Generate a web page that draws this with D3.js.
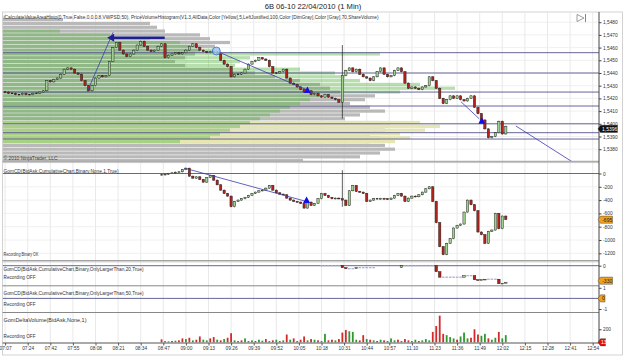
<!DOCTYPE html>
<html><head><meta charset="utf-8">
<script src="https://cdn.jsdelivr.net/npm/d3@7"></script>
<style>body{margin:0;background:#fff}svg{display:block}text{font-family:"Liberation Sans",Arial,sans-serif;fill:#333}</style>
</head><body><svg id="c" width="625" height="362"></svg>
<script>
// ---------- DATA ----------
const title = "6B 06-10  22/04/2010 (1 Min)";
const timeLabels = ["07:07","07:24","07:42","07:55","08:08","08:21","08:34","08:47","09:00","09:13","09:26","09:39","09:52","10:05","10:18","10:31","10:44","10:57","11:10","11:23","11:36","11:49","12:02","12:15","12:28","12:41","12:54"];
const priceTicks = [1.5480,1.5470,1.5460,1.5450,1.5440,1.5430,1.5420,1.5410,1.5400,1.5390,1.5380];
const cdTicks = [0,-200,-400,-600,-800,-1000,-1200];
// 2-minute bars from 07:07 (bar k -> minute 2k)
const priceCloses = [
1.5425,1.5424,1.5424,1.5423,1.5423,1.5424,1.5423,1.5423,1.5424,1.5424,1.5425,1.5426,
1.5434,1.5433,1.5435,1.5436,1.5439,1.5443,1.5444,1.5443,1.5440,1.5439,1.5434,1.5430,
1.5426,1.5430,1.5436,1.5438,1.5437,1.5438,1.5449,1.5460,1.5464,1.5458,1.5455,1.5453,
1.5455,1.5458,1.5462,1.5465,1.5461,1.5458,1.5457,1.5458,1.5461,1.5463,1.5452,1.5454,
1.5455,1.5456,1.5455,1.5456,1.5458,1.5461,1.5463,1.5460,1.5458,1.5457,1.5456,1.5457,
1.5456,1.5455,1.5450,1.5447,1.5445,1.5437,1.5439,1.5439,1.5440,1.5443,1.5447,1.5449,
1.5450,1.5452,1.5451,1.5450,1.5445,1.5440,1.5440,1.5441,1.5443,1.5436,1.5432,1.5431,
1.5429,1.5427,1.5425,1.5426,1.5423,1.5424,1.5422,1.5421,1.5423,1.5421,1.5420,1.5419,
1.5417,1.5438,1.5442,1.5444,1.5441,1.5443,1.5439,1.5437,1.5436,1.5434,1.5437,1.5441,
1.5444,1.5439,1.5437,1.5438,1.5442,1.5444,1.5441,1.5432,1.5428,1.5429,1.5428,1.5427,
1.5429,1.5430,1.5437,1.5434,1.5428,1.5420,1.5416,1.5419,1.5422,1.5420,1.5422,1.5419,
1.5418,1.5420,1.5422,1.5413,1.5408,1.5403,1.5396,1.5389,1.5390,1.5393,1.5402,1.5392,1.5398];
const priceFirstOpen = 1.5425;
const priceSpikeBar = [97], priceSpikeHigh = [1.5462], priceSpikeLow = [1.5404];
const lastPrice = 1.5396;
// cumulative delta, bars k = 45..144
const cdStartBar = 45;
const cdCloses = [
-20,-10,0,10,20,25,60,80,-40,-70,-50,-90,
-130,-60,-30,-100,-170,-250,-300,-340,-500,-420,-400,-380,
-360,-330,-300,-280,-260,-250,-220,-180,-250,-290,-310,-320,
-370,-400,-420,-430,-450,-520,-430,-480,-450,-380,-300,-330,
-360,-380,-370,-380,-400,-480,-260,-180,-270,-280,-300,-420,
-400,-380,-380,-375,-380,-390,-370,-330,-300,-340,-420,-370,
-340,-350,-320,-280,-230,-200,-420,-740,-1100,-1220,-1050,-980,
-820,-780,-760,-580,-400,-470,-560,-880,-920,-1050,-870,-850,
-600,-830,-640,-690];
const cdSpikeBar = [97], cdSpikeHigh = [50], cdSpikeLow = [-500];
const cdLast = "-695";
// OnlyLargerThan 20, bars k = 91..144 (null = no bar)
const l20StartBar = 91;
const l20Closes = [0,0,0,0,0,0,
-40,-60,-60,-60,-40,-40,-40,-40,-40,-40,
null,null,null,null,null,null,null,
0,0,0,0,0,0,0,0,0,0,
-120,-230,-230,-230,-230,-230,-230,-230,-200,-200,-200,
-280,-290,-280,-270,-270,-270,-270,-360,-350,-330];
const l20Last = "-330";
// delta volume (signed: + buy/green, - sell/red), bars k = 45..144
const dvStartBar = 45;
const deltaVol = [
-45,20,15,-20,25,-30,-60,50,-70,30,-40,-90,
40,30,-60,-80,40,-30,50,-70,-140,30,20,-30,
60,20,30,-20,40,25,-50,20,-30,40,-20,30,
-120,40,-60,20,-40,-90,30,-50,40,-30,20,130,
-30,-40,30,-50,-150,-190,170,160,40,-30,-110,50,
-40,30,-20,40,-30,20,60,30,-40,20,-50,-30,
20,40,-20,30,50,30,-160,-250,-410,-130,110,80,
60,-40,90,150,60,-70,-200,-120,100,130,-60,40,
70,-160,60,110];
// volume profile rows (price centre, volumes)
const profilePrices = [1.5482,1.5479,1.5476,1.5473,1.5470,1.5467,1.5464,1.5461,1.5458,1.5455,1.5452,1.5449,1.5446,1.5443,1.5440,1.5437,1.5434,1.5431,1.5428,1.5425,1.5422,1.5419,1.5416,1.5413,1.5410,1.5407,1.5404,1.5401,1.5398,1.5395,1.5392,1.5389,1.5386,1.5383,1.5380,1.5377,1.5374,1.5371];
const profileTotal = [60,147,154,162,197,207,227,212,197,192,182,172,182,227,252,272,297,317,327,337,372,362,347,367,382,357,342,377,387,382,367,377,367,382,392,377,357,300];
const profileValueArea = [0,0,0,57,107,147,177,187,212,377,247,237,232,297,332,342,357,417,452,397,317,307,297,287,277,267,257,247,237,227,217,207,177,0,0,0,0,0];
const profileYellow = [0,0,0,0,0,0,0,0,0,0,0,0,0,0,0,0,0,0,0,0,0,0,0,0,0,0,0,417,437,422,397,407,392,0,0,0,0,0];
const levelPrices = [1.5456,1.5440,1.5425,1.5414,1.5400,1.5393,1.5388];
// drawing objects (bar-minute index, price)
const arrowObj = [91.8, 58.7, 1.54678];
const trendLines = [[47.2,1.54252,62.1,1.54720],[121.5,1.54573,173.9,1.54266],[262.2,1.54174,272.7,1.54040],[293.8,1.53983,326.3,1.53700]];
const circleObj = [121.5,1.54573];
const triangles = [[173.9,1.54262],[274.2,1.54020]];
const cdLine = [103.3,80,173.2,-420];
const cdTriangle = [173.4,-405];
const headerText = "iCalculateValueAreaHisto(0,True,False,0,0,0,8,VWPSD,50), PriceVolumeHistogram(V1.3,AllData,Color [Yellow],5,LeftJustified,100,Color [DimGray],Color [Gray],70,ShareVolume)";

// ---------- SCALES ----------
const svg = d3.select("#c");
const X0 = 3, X1 = 599;
const x = d3.scaleLinear().domain([0, 338]).range([5.1, 592.7]);
const xt = d3.scalePoint().domain(timeLabels).range([x(0), x(338)]);
const yP = d3.scaleLinear().domain([1.5400, 1.5480]).range([123.8, 22.2]);
const yCD = d3.scaleLinear().domain([0, -1200]).range([173.5, 253.3]);
const yL20 = d3.scaleLinear().domain([0, -300]).range([265.7, 280.7]);
const yL50 = d3.scaleLinear().domain([1, -1]).range([287.8, 309]);
const yDV = d3.scaleLinear().domain([0, 200]).range([342.3, 329.3]);
const xVol = d3.scaleLinear().domain([0, 600]).range([3, 603]);
const panels = [[12.5,161],[163,260.5],[262,285.5],[286.2,312.3],[312.8,343]];

const defs = svg.append("defs");
panels.forEach((p,i)=>defs.append("clipPath").attr("id","cp"+i).append("rect").attr("x",X0).attr("y",p[0]).attr("width",X1-X0).attr("height",p[1]-p[0]));

svg.append("rect").attr("width",625).attr("height",362).attr("fill","#fff");
// frame
svg.append("rect").attr("x",2.5).attr("y",12).attr("width",620).attr("height",343).attr("fill","none").attr("stroke","#c8c8c8").attr("stroke-width",0.8);

// vertical grid
const grid = svg.append("g");
timeLabels.forEach(t=>grid.append("line").attr("x1",xt(t)).attr("x2",xt(t)).attr("y1",12.5).attr("y2",343).attr("stroke","#e3e3e3").attr("stroke-width",0.8));
priceTicks.forEach(p=>grid.append("line").attr("x1",X0).attr("x2",X1).attr("y1",yP(p)).attr("y2",yP(p)).attr("stroke","#ececec").attr("stroke-width",0.8));
cdTicks.forEach(v=>grid.append("line").attr("x1",X0).attr("x2",X1).attr("y1",yCD(v)).attr("y2",yCD(v)).attr("stroke","#ececec").attr("stroke-width",0.8));

// ---------- MAIN PANEL ----------
const gm = svg.append("g").attr("clip-path","url(#cp0)");
const rowH = Math.abs(yP(0.0003)-yP(0));
function profileLayer(vals, fill, op){
  gm.append("g").selectAll("rect").data(profilePrices).join("rect")
    .attr("x",xVol(0)).attr("y",p=>yP(p)-rowH/2+0.3).attr("height",rowH-0.6)
    .attr("width",(p,i)=>Math.max(0,xVol(vals[i])-xVol(0))).attr("fill",fill).attr("fill-opacity",op);
}
profileLayer(profileTotal,"#b9b9b9",1);
profileLayer(profileYellow,"#e6e6b2",1);
profileLayer(profileValueArea,"#5fb84c",0.45);
levelPrices.forEach(p=>gm.append("line").attr("x1",X0).attr("x2",X1).attr("y1",yP(p)).attr("y2",yP(p)).attr("stroke","#55558c").attr("stroke-width",0.9));

function drawCandles(g, bars, y, w, flatColor){
  bars.forEach(d=>{
    const cx = x(d.i);
    g.append("line").attr("x1",cx).attr("x2",cx).attr("y1",y(d.h)).attr("y2",y(d.l)).attr("stroke","#1e1e1e").attr("stroke-width",0.7);
    const t = y(Math.max(d.o,d.c)), b = y(Math.min(d.o,d.c));
    const flat = d.o===d.c;
    g.append("rect").attr("x",cx-w/2).attr("y",flat? t-0.6 : t).attr("width",w).attr("height",flat?1.2:Math.max(0.8,b-t))
      .attr("fill", flat ? flatColor : (d.c>d.o ? "#9fd08f" : "#b0231b"))
      .attr("stroke", flat ? "none" : "#1e1e1e").attr("stroke-width",0.45);
  });
}
function buildBars(closes, startBar, firstOpen, wick, spikeBars, spikeHi, spikeLo){
  const out = []; let prev = firstOpen;
  closes.forEach((c,j)=>{
    if(c===null) return;
    const k = startBar + j;
    const o = prev;
    let h = Math.max(o,c)+wick, l = Math.min(o,c)-wick;
    const s = spikeBars.indexOf(k);
    if(s>=0){ h = spikeHi[s]; l = spikeLo[s]; }
    out.push({i:2*k, o, c, h, l}); prev = c;
  });
  return out;
}
const priceBars = buildBars(priceCloses, 0, priceFirstOpen, 0.00005, priceSpikeBar, priceSpikeHigh, priceSpikeLow);
drawCandles(gm, priceBars, yP, 2.3, "#1e1e1e");

// drawing objects
const dob = svg.append("g").attr("clip-path","url(#cp0)");
trendLines.forEach(t=>dob.append("line").attr("x1",x(t[0])).attr("y1",yP(t[1])).attr("x2",x(t[2])).attr("y2",yP(t[3])).attr("stroke","#3b3bb0").attr("stroke-width",0.8));
const ay = yP(arrowObj[2]);
dob.append("line").attr("x1",x(arrowObj[0])).attr("x2",x(arrowObj[1])+5).attr("y1",ay).attr("y2",ay).attr("stroke","#1f1f90").attr("stroke-width",2.6);
dob.append("path").attr("d",`M${x(arrowObj[1])},${ay} l7,-4 l0,8 z`).attr("fill","#1f1f90");
dob.append("circle").attr("cx",x(circleObj[0])).attr("cy",yP(circleObj[1])).attr("r",4).attr("fill","#9cc6ee").attr("fill-opacity",0.85).attr("stroke","#3a6fc0").attr("stroke-width",0.8);
triangles.forEach(t=>dob.append("path").attr("d",`M${x(t[0])},${yP(t[1])-4} l3.5,6.5 l-7,0 z`).attr("fill","#1010e8"));

// header texts
svg.append("text").attr("x",313).attr("y",8.5).attr("text-anchor","middle").attr("font-size",7.6).style("fill","#222").text(title);
svg.append("text").attr("x",3.5).attr("y",18.6).attr("font-size",5).attr("textLength",375).attr("lengthAdjust","spacingAndGlyphs").style("fill","#333").text(headerText);
svg.append("text").attr("x",3.5).attr("y",160).attr("font-size",5).attr("textLength",54).attr("lengthAdjust","spacingAndGlyphs").style("fill","#444").text("\u00a9 2010 NinjaTrader, LLC");
// scroll icon
svg.append("path").attr("d","M577,14.5 L584,18 L577,21.5 Z").attr("fill","none").attr("stroke","#777").attr("stroke-width",0.7);
svg.append("line").attr("x1",585.5).attr("x2",585.5).attr("y1",14).attr("y2",22).attr("stroke","#777").attr("stroke-width",0.9);

// ---------- PANEL 2: cumulative delta ----------
const g2 = svg.append("g").attr("clip-path","url(#cp1)");
g2.append("line").attr("x1",X0).attr("x2",X1).attr("y1",yCD(0)).attr("y2",yCD(0)).attr("stroke","#55558c").attr("stroke-width",0.9);
const cdBars = buildBars(cdCloses, cdStartBar, cdCloses[0], 8, cdSpikeBar, cdSpikeHigh, cdSpikeLow);
drawCandles(g2, cdBars, yCD, 2.3, "#1e1e1e");
g2.append("line").attr("x1",x(cdLine[0])).attr("y1",yCD(cdLine[1])).attr("x2",x(cdLine[2])).attr("y2",yCD(cdLine[3])).attr("stroke","#3b3bb0").attr("stroke-width",0.8);
g2.append("path").attr("d",`M${x(cdTriangle[0])},${yCD(cdTriangle[1])-4} l3.5,6.5 l-7,0 z`).attr("fill","#1010e8");

// ---------- PANEL 3 ----------
const g3 = svg.append("g").attr("clip-path","url(#cp2)");
g3.append("line").attr("x1",X0).attr("x2",X1).attr("y1",yL20(0)).attr("y2",yL20(0)).attr("stroke","#55558c").attr("stroke-width",0.9);
const l20Bars = buildBars(l20Closes, l20StartBar, 0, 0, [], [], []);
drawCandles(g3, l20Bars.map(d=>({...d, o:d.o, c:d.c})), yL20, 2.6, "#a9a9d6");

// ---------- PANEL 4 ----------
const g4 = svg.append("g");
g4.append("line").attr("x1",X0).attr("x2",X1).attr("y1",yL50(0)).attr("y2",yL50(0)).attr("stroke","#55558c").attr("stroke-width",0.9);

// ---------- PANEL 5: delta volume ----------
const g5 = svg.append("g").attr("clip-path","url(#cp4)");
g5.selectAll("rect").data(deltaVol).join("rect")
  .attr("x",(v,j)=>x(2*(dvStartBar+j))-0.9).attr("width",1.8)
  .attr("y",v=>yDV(Math.abs(v))).attr("height",v=>yDV(0)-yDV(Math.abs(v)))
  .attr("fill",v=>v>=0?"#2f9a2f":"#d42a2a");

// ---------- separators ----------
const sep = svg.append("g");
[[161.3,"#999"],[162.6,"#c4c4c4"],[260.6,"#999"],[261.8,"#c4c4c4"],[285.8,"#888"],[312.5,"#888"]].forEach(s=>
  sep.append("line").attr("x1",2.5).attr("x2",X1).attr("y1",s[0]).attr("y2",s[0]).attr("stroke",s[1]).attr("stroke-width",1));
sep.append("line").attr("x1",2.5).attr("x2",X1+0.5).attr("y1",343).attr("y2",343).attr("stroke","#555").attr("stroke-width",1);

// ---------- panel labels ----------
function lbl(t,y,len){ svg.append("text").attr("x",3.5).attr("y",y).attr("font-size",4.8).attr("textLength",len).attr("lengthAdjust","spacingAndGlyphs").text(t); }
lbl("GomCD(BidAsk,CumulativeChart,Binary,None,1,True)",173,115);
lbl("Recording Binary OK",255.5,35);
lbl("GomCD(BidAsk,CumulativeChart,Binary,OnlyLargerThan,20,True)",270.5,140);
lbl("Recording OFF",279,32);
lbl("GomCD(BidAsk,CumulativeChart,Binary,OnlyLargerThan,50,True)",295,140);
lbl("Recording OFF",306,32);
lbl("GomDeltaVolume(BidAsk,None,1)",322,83);
lbl("Recording OFF",338,32);

// ---------- axes ----------
svg.append("line").attr("x1",X1).attr("x2",X1).attr("y1",12).attr("y2",343).attr("stroke","#444").attr("stroke-width",1);
function rightAxis(scale, ticks, fmt){
  const g = svg.append("g").attr("transform",`translate(${X1},0)`)
    .call(d3.axisRight(scale).tickValues(ticks).tickSize(2.5).tickPadding(1.5).tickFormat(fmt));
  g.select(".domain").remove();
  g.selectAll("text").attr("font-size",4.8).style("fill","#333");
  g.selectAll("line").attr("stroke","#444");
  return g;
}
rightAxis(yP, priceTicks, d=>d3.format(".4f")(d).replace(".",","));
rightAxis(yCD, cdTicks, d=>String(d));
rightAxis(yL20, [0], d=>String(d));
rightAxis(yL50, [1,-1], d=>String(d));
rightAxis(yDV, [200], d=>String(d));

const gx = svg.append("g").attr("transform","translate(0,343)").call(d3.axisBottom(xt).tickSize(2.5).tickPadding(1.5));
gx.select(".domain").remove();
gx.selectAll("text").attr("font-size",4.8).style("fill","#333");
gx.selectAll("line").attr("stroke","#555");

// ---------- last value markers ----------
function marker(y, txt, fill, tcol, w){
  svg.append("path").attr("d",`M${X1-1},${y} l2.5,-3.6 l${w},0 l0,7.2 l${-w},0 z`).attr("fill",fill).attr("stroke","#333").attr("stroke-width",0.4);
  svg.append("text").attr("x",X1+2.2+w/2).attr("y",y+1.8).attr("text-anchor","middle").attr("font-size",5).style("fill",tcol).text(txt);
}
marker(yP(lastPrice),"1,5396","#111","#fff",17);
marker(yCD(-695),cdLast,"#f0a020","#222",12);
marker(yL20(-300),l20Last,"#f0a020","#222",12);
marker(yL50(0),"0","#f0a020","#222",4.5);
marker(yDV(0),"13","#e01010","#fff",5);
</script></body></html>
